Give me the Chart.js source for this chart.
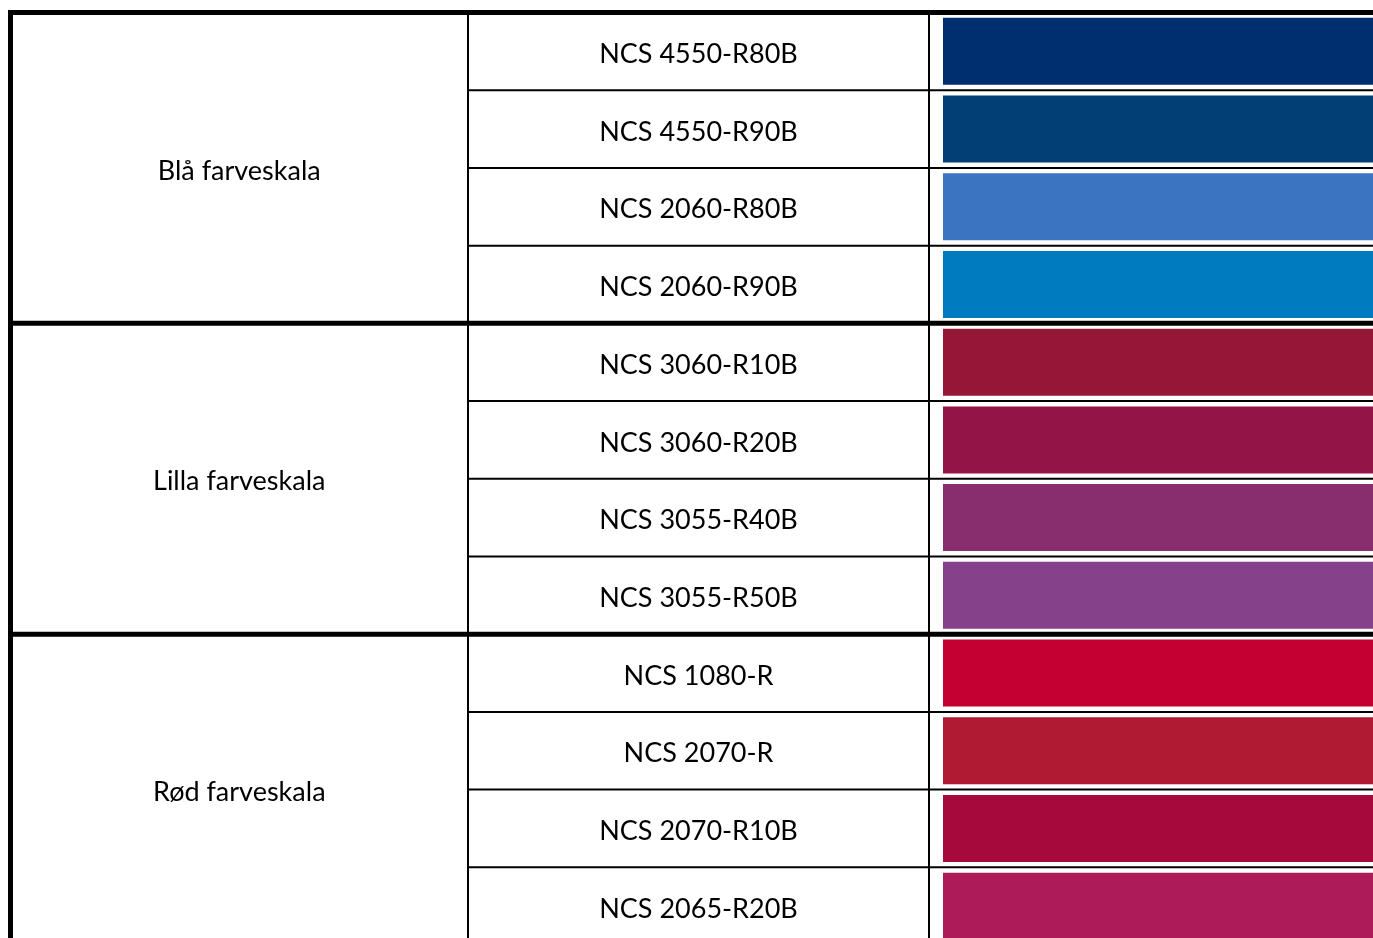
<!DOCTYPE html>
<html>
<head>
<meta charset="utf-8">
<title>NCS farveskala</title>
<script src="https://cdn.jsdelivr.net/npm/chart.js@4.4.1/dist/chart.umd.min.js"></script>
<style>
  html, body { margin: 0; padding: 0; background: #fff; overflow: hidden; }
  #wrap { position: relative; width: 1373px; height: 960px; }
</style>
</head>
<body>
<div id="wrap"><canvas id="ncs-chart"></canvas></div>
<script>
// Data
const groupNames = ['Blå farveskala', 'Lilla farveskala', 'Rød farveskala'];
const rowsPerGroup = 4;
const ncsCodes = [
    'NCS 4550-R80B', 'NCS 4550-R90B', 'NCS 2060-R80B', 'NCS 2060-R90B',
    'NCS 3060-R10B', 'NCS 3060-R20B', 'NCS 3055-R40B', 'NCS 3055-R50B',
    'NCS 1080-R', 'NCS 2070-R', 'NCS 2070-R10B', 'NCS 2065-R20B'
];
const swatchColors = [
    '#002f6f', '#023f74', '#3b75c2', '#007bbf',
    '#961638', '#931447', '#882e6e', '#85418a',
    '#c40032', '#b01b33', '#a6093c', '#ad1b58'
];

// Layout (pixels)
const leftEdge = 10.5;      // midten af venstre ramme
const col1Right = 468;      // skillelinje mellem gruppe og kode
const col2Right = 929;      // skillelinje mellem kode og farve
const thickLine = 5;
const thinLine = 2;
const textShift = 3;        // Lato sidder lidt højere end originalen
const labelFont = '27px Lato';

// Tegner tabellens linjer og tekster ud fra y-skalaen
const tablePlugin = {
    id: 'ncsTable',
    afterDatasetsDraw(chart) {
        const ctx = chart.ctx;
        const y = chart.scales.y;
        const w = chart.width;
        const h = chart.height;
        const topY = y.getPixelForValue(-0.5);

        ctx.save();
        ctx.strokeStyle = '#000';
        ctx.lineCap = 'butt';

        // lodrette linjer
        ctx.lineWidth = thinLine;
        [col1Right, col2Right].forEach(x => {
            ctx.beginPath();
            ctx.moveTo(x, topY - thickLine / 2);
            ctx.lineTo(x, h);
            ctx.stroke();
        });
        ctx.lineWidth = thickLine;
        ctx.beginPath();
        ctx.moveTo(leftEdge, topY - thickLine / 2);
        ctx.lineTo(leftEdge, h);
        ctx.stroke();

        // vandrette linjer
        for (let k = 0; k <= ncsCodes.length; k++) {
            const py = y.getPixelForValue(k - 0.5);
            const isGroup = k % rowsPerGroup === 0;
            ctx.lineWidth = isGroup ? thickLine : thinLine;
            ctx.beginPath();
            ctx.moveTo(isGroup ? leftEdge - thickLine / 2 : col1Right - 1, py);
            ctx.lineTo(w, py);
            ctx.stroke();
        }

        // tekster
        ctx.fillStyle = '#000';
        ctx.font = labelFont;
        ctx.textAlign = 'center';
        ctx.textBaseline = 'middle';
        ncsCodes.forEach((code, i) => {
            ctx.fillText(code, (col1Right + col2Right) / 2, y.getPixelForValue(i) + textShift);
        });
        groupNames.forEach((name, g) => {
            const mid = g * rowsPerGroup + (rowsPerGroup - 1) / 2;
            ctx.fillText(name, (leftEdge + col1Right) / 2, y.getPixelForValue(mid) + textShift);
        });
        ctx.restore();
    }
};

const ctx = document.getElementById('ncs-chart').getContext('2d');
const ncsChart = new Chart(ctx, {
    type: 'bar',
    data: {
        labels: ncsCodes,
        datasets: [{
            label: 'Farve',
            data: ncsCodes.map(() => [0, 1]),
            backgroundColor: swatchColors,
            borderWidth: 0,
            barPercentage: 0.862,
            categoryPercentage: 1
        }]
    },
    options: {
        indexAxis: 'y',
        responsive: true,
        maintainAspectRatio: false,
        devicePixelRatio: 1,
        animation: false,
        layout: {
            padding: { left: 943, right: 0, top: 12.5, bottom: 15 }
        },
        scales: {
            x: { display: false, min: 0, max: 1 },
            y: { display: false }
        },
        plugins: {
            legend: { display: false },
            tooltip: { enabled: false }
        }
    },
    plugins: [tablePlugin]
});
</script>
</body>
</html>
